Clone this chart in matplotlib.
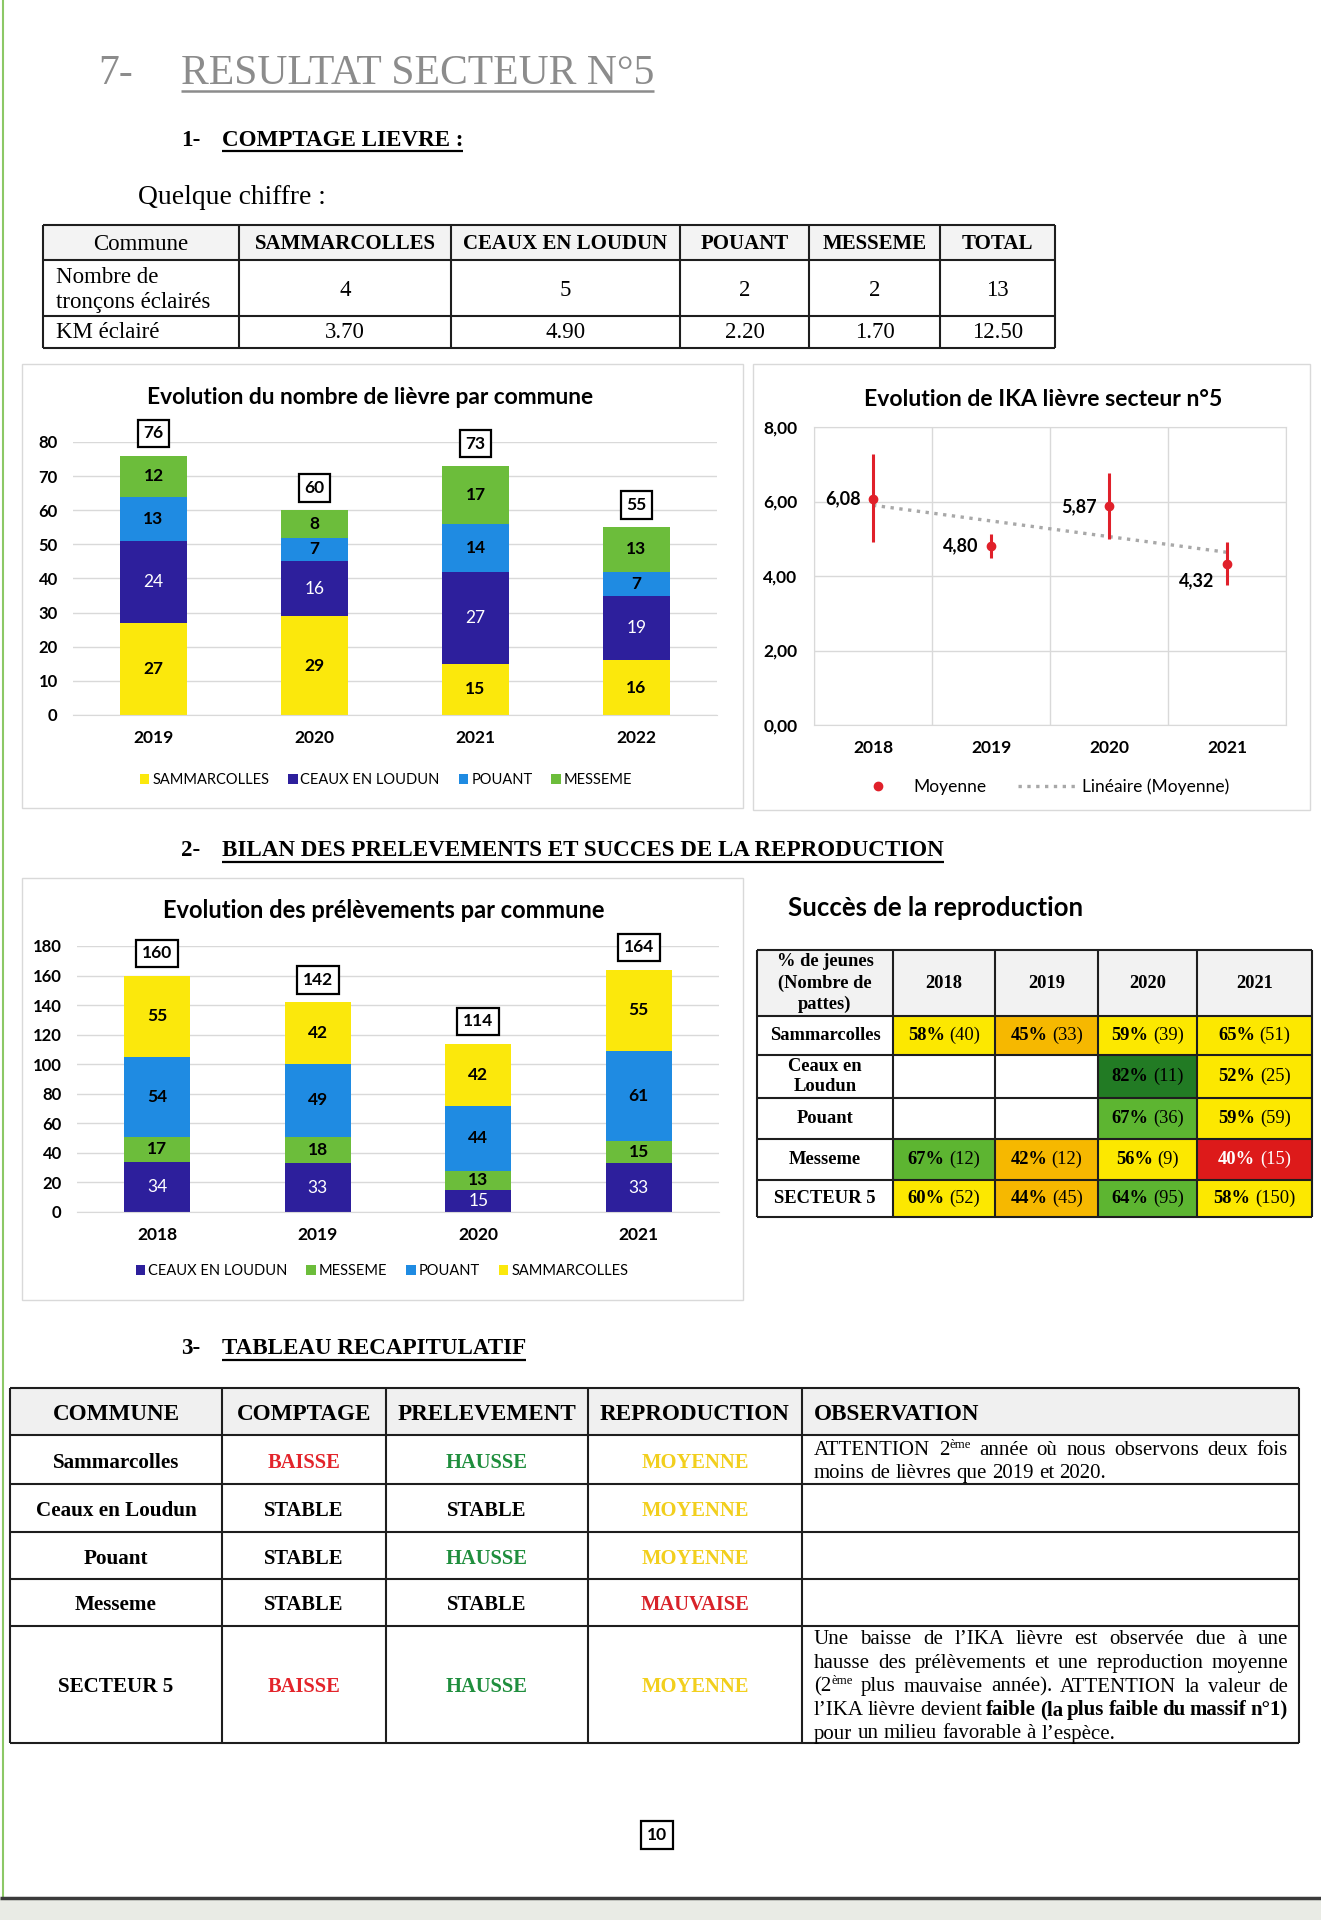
import matplotlib
matplotlib.use("Agg")
import matplotlib.pyplot as plt
from matplotlib.patches import Rectangle
from matplotlib.lines import Line2D
import numpy as np

W, H = 1321, 1920
SERIF = "Liberation Serif"
SANS = "Lato"
plt.rcParams["font.family"] = SANS

# --- Quelque chiffre
communes = ["SAMMARCOLLES", "CEAUX EN LOUDUN", "POUANT", "MESSEME", "TOTAL"]
troncons = [4, 5, 2, 2, 13]
km_eclaire = ["3.70", "4.90", "2.20", "1.70", "12.50"]

# --- comptage lièvre par commune
annees_comptage = ["2019", "2020", "2021", "2022"]
lievre_sammarcolles = [27, 29, 15, 16]
lievre_ceaux = [24, 16, 27, 19]
lievre_pouant = [13, 7, 14, 7]
lievre_messeme = [12, 8, 17, 13]

# --- IKA secteur 5
annees_ika = ["2018", "2019", "2020", "2021"]
ika_moyenne = [6.08, 4.80, 5.87, 4.32]
ika_bas = [4.92, 4.49, 4.99, 3.76]
ika_haut = [7.28, 5.13, 6.77, 4.91]

# --- prélèvements
annees_prel = ["2018", "2019", "2020", "2021"]
prel_ceaux = [34, 33, 15, 33]
prel_messeme = [17, 18, 13, 15]
prel_pouant = [54, 49, 44, 61]
prel_sammarcolles = [55, 42, 42, 55]

# --- succès de la reproduction
repro_lignes = ["Sammarcolles", "Ceaux en\nLoudun", "Pouant", "Messeme", "SECTEUR 5"]
repro_annees = ["2018", "2019", "2020", "2021"]
repro_pct = [[58, 45, 59, 65], [None, None, 82, 52], [None, None, 67, 59],
             [67, 42, 56, 40], [60, 44, 64, 58]]
repro_n = [[40, 33, 39, 51], [None, None, 11, 25], [None, None, 36, 59],
           [12, 12, 9, 15], [52, 45, 95, 150]]
repro_classe = [["j", "o", "j", "j"], ["", "", "vf", "j"], ["", "", "v", "j"],
                ["v", "o", "j", "r"], ["j", "o", "v", "j"]]

# --- tableau récapitulatif
recap_communes = ["Sammarcolles", "Ceaux en Loudun", "Pouant", "Messeme", "SECTEUR 5"]
recap_comptage = ["BAISSE", "STABLE", "STABLE", "STABLE", "BAISSE"]
recap_prelevement = ["HAUSSE", "STABLE", "HAUSSE", "STABLE", "HAUSSE"]
recap_reproduction = ["MOYENNE", "MOYENNE", "MOYENNE", "MAUVAISE", "MOYENNE"]
recap_observation = [
    ["ATTENTION 2^ème année où nous observons deux fois",
     "moins de lièvres que 2019 et 2020."],
    [], [], [],
    ["Une baisse de l’IKA lièvre est observée due à une",
     "hausse des prélèvements et une reproduction moyenne",
     "(2^ème plus mauvaise année). ATTENTION la valeur de",
     "l’IKA lièvre devient *faible *(la *plus *faible *du *massif *n°1)",
     "pour un milieu favorable à l’espèce."],
]

JAUNE = "#FBE80C"
MARINE = "#2D1F9C"
BLEU = "#1F8BE2"
VERT = "#6CBD3B"
ROUGE = "#E0202A"
GRIS_GRILLE = "#D9D9D9"
couleurs_repro = {"j": "#FCE800", "o": "#F6B800", "v": "#5DB531", "vf": "#227B24",
                  "r": "#DD1A1A", "": "white"}
couleurs_recap = {"BAISSE": "#E3242B", "HAUSSE": "#1F8E3D", "STABLE": "black",
                  "MOYENNE": "#F2CF1D", "MAUVAISE": "#D8232A"}

fig = plt.figure(figsize=(W / 100, H / 100), dpi=100)
page = fig.add_axes([0, 0, 1, 1])
page.set_xlim(0, W)
page.set_ylim(H, 0)
page.axis("off")
rend = fig.canvas.get_renderer()


def zone(x0, y0, x1, y1):
    return [x0 / W, 1 - y1 / H, (x1 - x0) / W, (y1 - y0) / H]


def texte(x, y, s, size, bold=False, family=SERIF, color="black", ha="center", va="center", **kw):
    return page.text(x, y, s, fontsize=size, fontweight="bold" if bold else "normal",
                     family=family, color=color, ha=ha, va=va, zorder=5, **kw)


def largeur(s, size, bold=False, family=SERIF):
    t = texte(0, 0, s, size, bold, family, ha="left")
    w = t.get_window_extent(rend).width
    t.remove()
    return w


def cadre(x0, y0, x1, y1, fc="none", ec="none", lw=1.0):
    page.add_patch(Rectangle((x0, y0), x1 - x0, y1 - y0, fc=fc, ec=ec, lw=lw, zorder=1))


def grille(xs, ys, lw=1.5, color="#1E1E1E"):
    page.hlines(ys, xs[0], xs[-1], color=color, lw=lw, zorder=3)
    page.vlines(xs, ys[0], ys[-1], color=color, lw=lw, zorder=3)


def titre_section(y, num, s, size=16.6):
    texte(181, y, num, size, True, ha="left")
    texte(222, y, s, size, True, ha="left")
    page.hlines(y + 11, 222, 222 + largeur(s, size, True), color="black", lw=1.6, zorder=5)


def ligne_justifiee(x0, x1, y, ligne, size, justifier):
    mots = []
    for m in ligne.split(" "):
        gras = m.startswith("*")
        m = m.lstrip("*")
        if "^" in m:
            base, sup = m.split("^")
            mots.append([(base, size, gras, 0), (sup, size * 0.62, gras, 7)])
        else:
            mots.append([(m, size, gras, 0)])
    larg = [sum(largeur(p[0], p[1], p[2]) for p in parts) for parts in mots]
    esp = largeur("a a", size) - largeur("aa", size)
    if justifier and len(mots) > 1:
        esp = (x1 - x0 - sum(larg)) / (len(mots) - 1)
    x = x0
    for parts, w in zip(mots, larg):
        for s, sz, gras, dy in parts:
            texte(x, y - dy, s, sz, gras, ha="left", va="baseline")
            x += largeur(s, sz, gras)
        x += esp


# --- page
page.vlines(3, 0, 1897, color="#8CC866", lw=1.5)
cadre(0, 1898, W, H, fc="#E9EBE5")
page.hlines(1898, 0, W, color="#3A3A3A", lw=2.5)

texte(98, 74, "7-", 30, color="#8C8C8C", ha="left")
texte(181, 74, "RESULTAT SECTEUR N°5", 30, color="#8C8C8C", ha="left")
page.hlines(91, 181, 181 + largeur("RESULTAT SECTEUR N°5", 30), color="#8C8C8C", lw=1.8)

titre_section(140, "1-", "COMPTAGE LIEVRE :")
texte(138, 198, "Quelque chiffre :", 19.8, ha="left")

# --- tableau quelques chiffres
t1_x = [43, 239, 451, 680, 809, 940, 1055]
t1_y = [225, 260, 316, 348]
cadre(t1_x[0], t1_y[0], t1_x[-1], t1_y[1], fc="#F3F3F3")
grille(t1_x, t1_y)
texte((t1_x[0] + t1_x[1]) / 2, 244, "Commune", 16.5)
texte(56, 290, "Nombre de\ntronçons éclairés", 16.5, ha="left", linespacing=1.2)
texte(56, 333, "KM éclairé", 16.5, ha="left")
for i, nom in enumerate(communes):
    cx = (t1_x[i + 1] + t1_x[i + 2]) / 2
    texte(cx, 244, nom, 15, True)
    texte(cx, 290, str(troncons[i]), 16.5)
    texte(cx, 333, km_eclaire[i], 16.5)

# --- cadres des graphiques
cadre(22, 364, 743, 808, fc="white", ec=GRIS_GRILLE)
cadre(753, 364, 1310, 810, fc="white", ec=GRIS_GRILLE)
cadre(22, 878, 743, 1300, fc="white", ec=GRIS_GRILLE)


def barres_empilees(ax, annees, series, couleurs, noms, ymax, pas, legende_xy):
    x = np.arange(len(annees))
    bas = np.zeros(len(annees))
    for vals, c, nom in zip(series, couleurs, noms):
        bc = ax.bar(x, vals, 0.41, bottom=bas, color=c, label=nom, zorder=2)
        blanc = c == MARINE
        ax.bar_label(bc, label_type="center", fontsize=12.5,
                     fontweight="normal" if blanc else "bold",
                     color="white" if blanc else "black")
        bas += np.array(vals)
    for xi, tot in zip(x, bas):
        ax.annotate(f"{int(tot)}", (xi, tot), xytext=(0, 16), textcoords="offset points",
                    ha="center", va="center", fontsize=12.5, fontweight="bold",
                    annotation_clip=False,
                    bbox=dict(boxstyle="square,pad=0.33", fc="white", ec="black", lw=1.6))
    ax.set_xlim(-0.5, len(annees) - 0.5)
    ax.set_ylim(0, ymax)
    yt = np.arange(0, ymax + 1, pas)
    ax.set_yticks(yt, [str(v) for v in yt], fontweight="bold", fontsize=12)
    ax.set_xticks(x, annees, fontweight="bold", fontsize=12.5)
    ax.tick_params(length=0, pad=11)
    ax.yaxis.grid(True, color=GRIS_GRILLE, lw=1)
    ax.set_axisbelow(True)
    for s in ["top", "left", "right"]:
        ax.spines[s].set_visible(False)
    ax.spines["bottom"].set_color(GRIS_GRILLE)
    ax.set_facecolor("none")
    ax.legend(loc="center", bbox_to_anchor=(legende_xy[0] / W, 1 - legende_xy[1] / H),
              bbox_transform=fig.transFigure, ncol=4, frameon=False, fontsize=10.5,
              handlelength=0.65, handleheight=0.65, handletextpad=0.2, columnspacing=1.3)


# --- graphique comptage
ax1 = fig.add_axes(zone(73, 442, 717, 715))
texte(370, 397, "Evolution du nombre de lièvre par commune", 16.4, True, family=SANS)
barres_empilees(ax1, annees_comptage,
                [lievre_sammarcolles, lievre_ceaux, lievre_pouant, lievre_messeme],
                [JAUNE, MARINE, BLEU, VERT],
                ["SAMMARCOLLES", "CEAUX EN LOUDUN", "POUANT", "MESSEME"], 80, 10, (386, 780))

# --- graphique IKA
ax2 = fig.add_axes(zone(814, 427, 1286, 725))
texte(1043, 399, "Evolution de IKA lièvre secteur n°5", 16.6, True, family=SANS)
xi = np.arange(len(annees_ika))
moy = np.array(ika_moyenne)
err = [moy - np.array(ika_bas), np.array(ika_haut) - moy]
ax2.errorbar(xi, moy, yerr=err, fmt="o", color=ROUGE, ms=6, elinewidth=2.2, capsize=0, zorder=3)
a, b = np.polyfit(xi, moy, 1)
ax2.plot(xi, a * xi + b, ls=":", color="#A8A8A8", lw=2.4, zorder=2)
for k, v in enumerate(ika_moyenne):
    dy = -12 if k == 3 else 0
    ax2.annotate(f"{v:.2f}".replace(".", ","), (k, v), xytext=(-9, dy), textcoords="offset points",
                 ha="right", va="center", fontsize=13, fontweight="bold")
ax2.set_xlim(-0.5, 3.5)
ax2.set_ylim(0, 8)
yt = np.arange(0, 9, 2)
ax2.set_yticks(yt, [f"{v:.2f}".replace(".", ",") for v in yt], fontweight="bold", fontsize=12.5)
ax2.set_xticks(xi, annees_ika, fontweight="bold", fontsize=12.5)
ax2.set_xticks(np.arange(-0.5, 4, 1), minor=True)
ax2.tick_params(which="both", length=0)
ax2.tick_params(axis="y", pad=12)
ax2.tick_params(axis="x", pad=11)
ax2.grid(which="minor", axis="x", color=GRIS_GRILLE, lw=1)
ax2.grid(which="major", axis="y", color=GRIS_GRILLE, lw=1)
for s in ax2.spines.values():
    s.set_color(GRIS_GRILLE)
ax2.set_facecolor("none")
ax2.legend([Line2D([], [], marker="o", color=ROUGE, ls="none", ms=6),
            Line2D([], [], color="#A8A8A8", ls=":", lw=2.4)],
           ["Moyenne", "Linéaire (Moyenne)"], loc="center",
           bbox_to_anchor=(1039 / W, 1 - 787 / H), bbox_transform=fig.transFigure,
           ncol=2, frameon=False, fontsize=12.5, handlelength=3.4, handletextpad=0.3,
           columnspacing=1.8)

# --- section 2
titre_section(851, "2-", "BILAN DES PRELEVEMENTS ET SUCCES DE LA REPRODUCTION")

ax3 = fig.add_axes(zone(77, 946, 719, 1212))
texte(384, 910, "Evolution des prélèvements par commune", 17, True, family=SANS)
barres_empilees(ax3, annees_prel,
                [prel_ceaux, prel_messeme, prel_pouant, prel_sammarcolles],
                [MARINE, VERT, BLEU, JAUNE],
                ["CEAUX EN LOUDUN", "MESSEME", "POUANT", "SAMMARCOLLES"], 180, 20, (382, 1271))

# --- succès de la reproduction
texte(788, 908, "Succès de la reproduction", 18.5, True, family=SANS, ha="left")
r_x = [757, 893, 995, 1098, 1197, 1312]
r_y = [950, 1016, 1055, 1098, 1139, 1180, 1217]
TR = 13.3
cadre(r_x[0], r_y[0], r_x[-1], r_y[1], fc="#F2F2F2")
texte((r_x[0] + r_x[1]) / 2, (r_y[0] + r_y[1]) / 2, "% de jeunes\n(Nombre de\npattes)", TR, True,
      linespacing=1.3)
for j, an in enumerate(repro_annees):
    texte((r_x[j + 1] + r_x[j + 2]) / 2, (r_y[0] + r_y[1]) / 2, an, TR, True)
for i, nom in enumerate(repro_lignes):
    cy = (r_y[i + 1] + r_y[i + 2]) / 2
    texte((r_x[0] + r_x[1]) / 2, cy, nom, TR, True, linespacing=1.3)
    for j in range(len(repro_annees)):
        x0, x1 = r_x[j + 1], r_x[j + 2]
        cadre(x0, r_y[i + 1], x1, r_y[i + 2], fc=couleurs_repro[repro_classe[i][j]])
        if repro_pct[i][j] is None:
            continue
        col = "white" if repro_classe[i][j] == "r" else "black"
        s1 = f"{repro_pct[i][j]}%"
        s2 = f"({repro_n[i][j]})"
        w1, w2 = largeur(s1, TR, True), largeur(s2, TR)
        sp = 4.5
        xs = (x0 + x1) / 2 - (w1 + sp + w2) / 2
        texte(xs, cy, s1, TR, True, color=col, ha="left")
        texte(xs + w1 + sp, cy, s2, TR, color=col, ha="left")
grille(r_x, r_y)

# --- section 3
titre_section(1349, "3-", "TABLEAU RECAPITULATIF")
s_x = [10, 222, 386, 588, 802, 1299]
s_y = [1388, 1435, 1484, 1532, 1579, 1626, 1743]
cadre(s_x[0], s_y[0], s_x[-1], s_y[1], fc="#F0F0F0")
for j, h in enumerate(["COMMUNE", "COMPTAGE", "PRELEVEMENT", "REPRODUCTION"]):
    texte((s_x[j] + s_x[j + 1]) / 2, 1415, h, 16.7, True)
texte(814, 1415, "OBSERVATION", 16.7, True, ha="left")
for i in range(len(recap_communes)):
    cy = (s_y[i + 1] + s_y[i + 2]) / 2 + 3
    vals = [recap_communes[i], recap_comptage[i], recap_prelevement[i], recap_reproduction[i]]
    for j, v in enumerate(vals):
        col = "black" if j == 0 else couleurs_recap[v]
        texte((s_x[j] + s_x[j + 1]) / 2, cy, v, 15.2 if j == 0 else 14.8, True, color=col)
    lignes = recap_observation[i]
    y0 = cy - 2 - (len(lignes) - 1) / 2 * 23.5 + 6
    for k, lg in enumerate(lignes):
        ligne_justifiee(814, 1288, y0 + k * 23.5, lg, 15, k < len(lignes) - 1)
grille(s_x, s_y)

# --- numéro de page
texte(657, 1835, "10", 12.5, True, family=SANS,
      bbox=dict(boxstyle="square,pad=0.35", fc="white", ec="black", lw=1.6))

fig.savefig("out.png", dpi=100)
